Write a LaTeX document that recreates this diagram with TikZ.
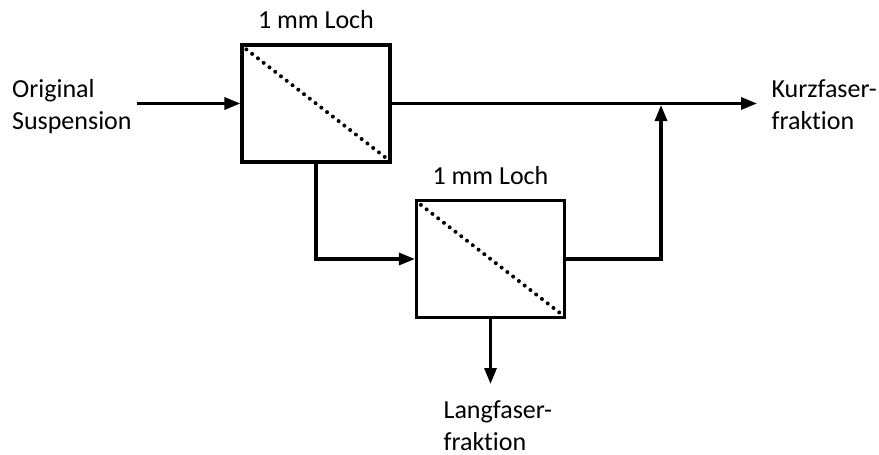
\documentclass[tikz,border=0pt]{standalone}
\usepackage{fontspec}
\setmainfont[Ligatures=NoCommon]{Carlito}
\usetikzlibrary{arrows.meta}
\begin{document}
\begin{tikzpicture}[x=1pt,y=-1pt,
  line width=3.2pt,
  filterbox/.style={draw,line width=3.2pt,minimum width=148pt,minimum height=117pt,inner sep=0pt},
  lbl/.style={font=\fontsize{26}{32}\selectfont,inner sep=0pt,align=left},
  flow/.style={-{Triangle[length=16pt,width=12pt]},line width=3.2pt},
  sieve/.style={line width=4pt,dash pattern=on 0pt off 7.3pt,line cap=round}]
\useasboundingbox (0,0) rectangle (879,455);
% filter units
\node[filterbox] (f1) at (316,103.5) {};
\node[filterbox] (f2) at (490.5,259) {};
\draw[sieve] ([shift={(6pt,-6pt)}]f1.north west) -- ([shift={(-6pt,6pt)}]f1.south east);
\draw[sieve] ([shift={(6pt,-6pt)}]f2.north west) -- ([shift={(-6pt,6pt)}]f2.south east);
% labels (base anchor sits on the last line)
\node[lbl,anchor=base] (t1) at (316,28) {1 mm Loch};
\node[lbl,anchor=base] (t2) at (490.5,184) {1 mm Loch};
\node[lbl,anchor=base west] (inp) at (10.5,129) {Original\\Suspension};
\node[lbl,anchor=base west] (kf) at (770,129) {Kurzfaser-\\fraktion};
\node[lbl,anchor=base west] (lf) at (442,450) {Langfaser-\\fraktion};
% connectors
\coordinate (src) at (137,103.5);
\coordinate (kend) at (757,103.5);
\coordinate (lend) at (490.5,384);
\coordinate (join) at (661,105);
\draw[flow] (src) -- (f1.west);
\draw[flow] (f1.east) -- (kend);
\draw[flow] (f1.south) |- (f2.west);
\draw[flow] (f2.east) -| (join);
\draw[flow] (f2.south) -- (lend);
\end{tikzpicture}
\end{document}
